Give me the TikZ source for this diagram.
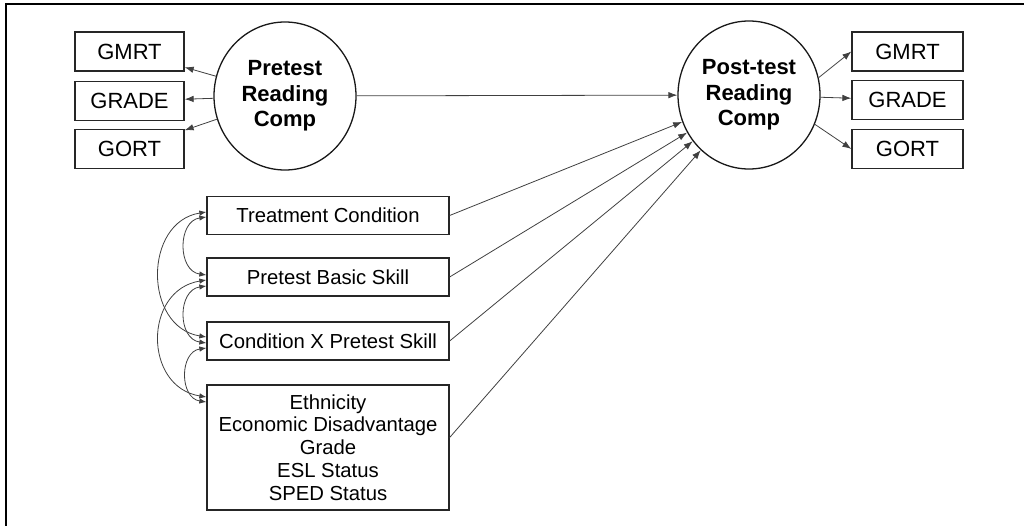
\documentclass[tikz,border=0pt]{standalone}
\usepackage{fontspec}
\setmainfont{Liberation Sans}
\usetikzlibrary{arrows.meta,shapes.geometric,calc}
\begin{document}
\begin{tikzpicture}[x=1pt,y=-1pt,
  box/.style={draw=black!85,line width=1.3pt,inner sep=0pt,minimum height=39pt,font=\fontsize{22}{25}\selectfont},
  lbox/.style={draw=black!85,line width=1.3pt,inner sep=0pt,minimum width=242pt,minimum height=38pt,align=center,font=\fontsize{20.3}{22.8}\selectfont},
  latent/.style={ellipse,draw=black!90,line width=1.3pt,minimum width=142pt,minimum height=148pt,inner sep=0pt,align=center,font=\bfseries\fontsize{22}{25.5}\selectfont},
  conn/.style={draw=black!75,line width=0.8pt,-{Latex[length=9pt,width=6.5pt]}},
  cov/.style={draw=black!75,line width=0.8pt,{Latex[length=7pt,width=5.5pt]}-{Latex[length=7pt,width=5.5pt]}}
]
\useasboundingbox (0,0) rectangle (1024,526);
% frame (only top and left edges visible)
\draw[line width=2pt,black] (1024,4) -- (6,4) -- (6,526);

% latent variables
\node[latent] (pre) at (285,96) {Pretest\\Reading\\Comp};
\node[latent] (post) at (749,95) {Post-test\\Reading\\Comp};

% indicators left
\node[box,minimum width=109pt] (gmrtL) at (129.5,51.5) {GMRT};
\node[box,minimum width=109pt] (gradeL) at (129.5,101) {GRADE};
\node[box,minimum width=109pt] (gortL) at (129.5,149) {GORT};

% indicators right
\node[box,minimum width=111pt] (gmrtR) at (907.5,51.5) {GMRT};
\node[box,minimum width=111pt] (gradeR) at (907.5,100) {GRADE};
\node[box,minimum width=111pt] (gortR) at (907.5,149) {GORT};

% predictors
\node[lbox] (treat) at (328,215.5) {Treatment Condition};
\node[lbox] (basic) at (328,277) {Pretest Basic Skill};
\node[lbox] (cond) at (328,341) {Condition X Pretest Skill};
\node[lbox,minimum height=125pt] (demo) at (328,447.5) {Ethnicity\\Economic Disadvantage\\Grade\\ESL Status\\SPED Status};

% measurement arrows
\draw[conn] (pre) -- (gmrtL);
\draw[conn] (pre) -- (gradeL);
\draw[conn] (pre) -- (gortL);
\draw[conn] (post.14) -- (gmrtR.west);
\draw[conn] (post) -- (gradeR);
\draw[conn] (post.-24) -- (gortR.west);

% structural arrows
\draw[conn] (pre) -- (post);
\draw[conn] (treat.east) -- (post);
\draw[conn] (basic.east) -- (post);
\draw[conn] (cond.east) -- (post);
\draw[conn] ($(demo.east)+(0,-10)$) -- (post);

% covariances
\draw[cov] ($(treat.west)+(0,-3.5)$) .. controls +(-63,10) and +(-63,-10) .. ($(cond.west)+(0,-4)$);
\draw[cov] ($(treat.west)+(0,1.5)$) .. controls +(-29,4) and +(-29,-4) .. ($(basic.west)+(0,-2)$);
\draw[cov] ($(basic.west)+(0,3)$) .. controls +(-63,10) and +(-63,-10) .. ($(demo.west)+(0,-50.5)$);
\draw[cov] ($(basic.west)+(0,9)$) .. controls +(-29,4) and +(-29,-4) .. ($(cond.west)+(0,2)$);
\draw[cov] ($(cond.west)+(0,7)$) .. controls +(-27,4) and +(-27,-4) .. ($(demo.west)+(0,-45.5)$);
\end{tikzpicture}
\end{document}
